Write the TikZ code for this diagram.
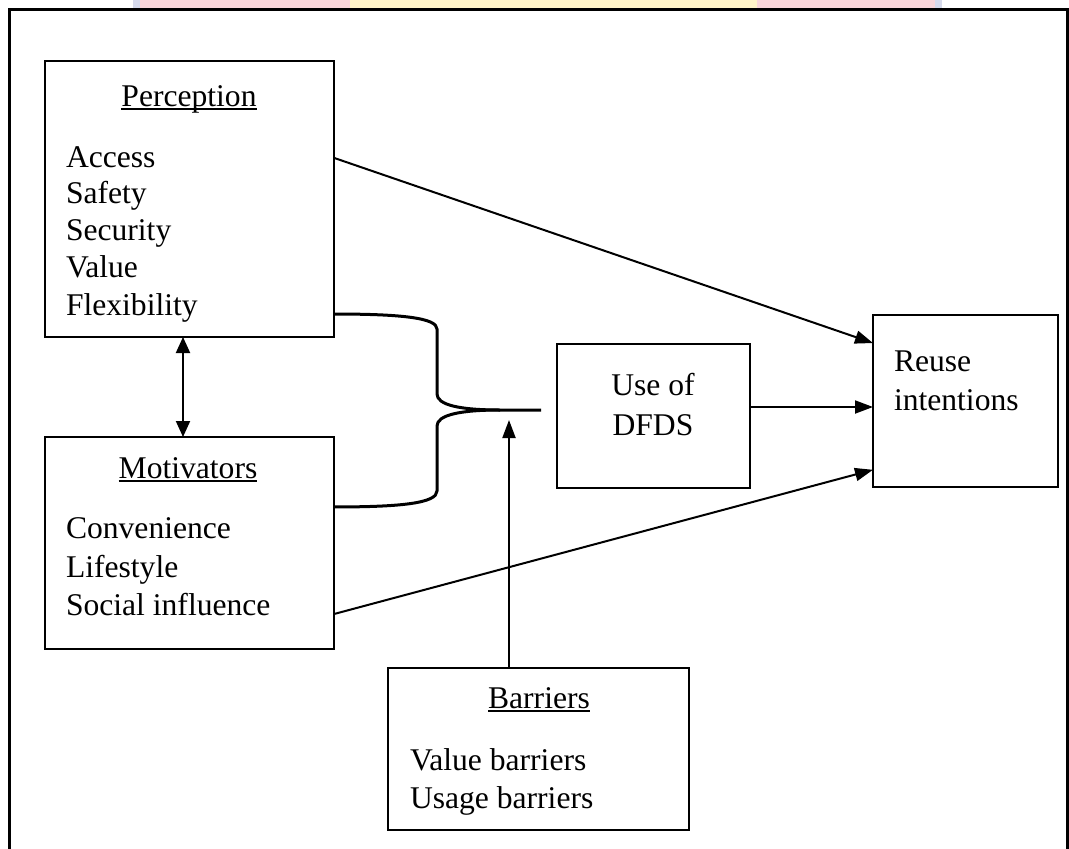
\documentclass[tikz,border=0pt]{standalone}
\usepackage{fontspec}
\setmainfont{Liberation Serif}
\usetikzlibrary{arrows.meta,calc}
\definecolor{wmpink}{RGB}{249,214,218}
\definecolor{wmyellow}{RGB}{255,244,200}
\definecolor{wmblue}{RGB}{214,218,236}
\begin{document}
\begin{tikzpicture}[x=1pt,y=-1pt,
  box/.style={draw,line width=2pt,inner sep=0pt,outer sep=0pt,rectangle},
  txt/.style={inner sep=0pt,outer sep=0pt,font=\fontsize{31.6}{37}\selectfont},
  lbl/.style={txt,anchor=base west},
  ttl/.style={txt,anchor=base},
  uline/.style={line width=1.6pt},
  arr/.style={line width=2pt,-{Triangle[length=18pt,width=13pt]}},
  darr/.style={line width=2pt,{Triangle[length=16pt,width=14pt]}-{Triangle[length=16pt,width=14pt]}},
  bracestyle/.style={line width=3pt,line join=round},
  frame/.style={line width=3pt}]
\useasboundingbox (0,0) rectangle (1069,849);
% faint watermark strip at the top
\fill[wmblue] (133,0) rectangle (942,8);
\fill[wmpink] (140,0) rectangle (935,8);
\fill[wmyellow] (350,0) rectangle (757,8);
% outer frame
\draw[frame] (9,849) -- (9,9) -- (1067,9) -- (1067,849);

% boxes
\node[box,minimum width=289pt,minimum height=276pt] (perc) at (189.5,199) {};
\node[box,minimum width=289pt,minimum height=212pt] (mot) at (189.5,543) {};
\node[box,minimum width=193pt,minimum height=144pt] (use) at (653.5,416) {};
\node[box,minimum width=185pt,minimum height=172pt] (reuse) at (965.5,401) {};
\node[box,minimum width=301pt,minimum height=162pt] (bar) at (538.5,749) {};

% Perception texts
\node[ttl] (pt) at (189,106) {Perception};
\draw[uline] ([yshift=-3pt]pt.base west) -- ([yshift=-3pt]pt.base east);
\node[lbl] (p1) at (66,167) {Access};
\node[lbl] (p2) at (66,203) {Safety};
\node[lbl] (p3) at (66,240) {Security};
\node[lbl] (p4) at (66,277) {Value};
\node[lbl] (p5) at (66,315) {Flexibility};

% Motivators texts
\node[ttl] (mt) at (188,478) {Motivators};
\draw[uline] ([yshift=-3pt]mt.base west) -- ([yshift=-3pt]mt.base east);
\node[lbl] (m1) at (66,538) {Convenience};
\node[lbl] (m2) at (66,577) {Lifestyle};
\node[lbl] (m3) at (66,615) {Social influence};

% Use of DFDS
\node[ttl] (u1) at (653,395) {Use of};
\node[ttl] (u2) at (653,435) {DFDS};

% Reuse intentions
\node[lbl] (r1) at (894,371) {Reuse};
\node[lbl] (r2) at (894,410) {intentions};

% Barriers
\node[ttl] (bt) at (539,708) {Barriers};
\draw[uline] ([yshift=-3pt]bt.base west) -- ([yshift=-3pt]bt.base east);
\node[lbl] (b1) at (410,770) {Value barriers};
\node[lbl] (b2) at (410,808) {Usage barriers};

% connectors
\draw[arr] ($(perc.north east)!0.351!(perc.south east)$) -- ($(reuse.north west)!0.163!(reuse.south west)$);
\draw[arr] ($(mot.north east)!0.835!(mot.south east)$) -- ($(reuse.north west)!0.90!(reuse.south west)$);
\coordinate (ua) at ($(use.north east)!0.4375!(use.south east)$);
\draw[arr] (ua) -- (ua -| reuse.west);
\coordinate (btip) at (509,420);
\draw[arr] (btip |- bar.north) -- (btip);
\coordinate (dx) at (183,0);
\draw[darr] (dx |- perc.south) -- (dx |- mot.north);

% brace joining Perception and Motivators towards Use of DFDS
\coordinate (brtop) at ($(perc.north east)!0.9167!(perc.south east)$);
\coordinate (brbot) at ($(mot.north east)!0.330!(mot.south east)$);
\coordinate (brend) at (541,410);
\draw[bracestyle] (brtop) .. controls (402,314) and (437,318) .. (437,329)
  -- (437,394) .. controls (437,405) and (460,410) .. (500,410) -- (brend);
\draw[bracestyle] (brbot) .. controls (402,507) and (437,503) .. (437,491)
  -- (437,426) .. controls (437,415) and (460,410) .. (500,410);
\end{tikzpicture}
\end{document}
